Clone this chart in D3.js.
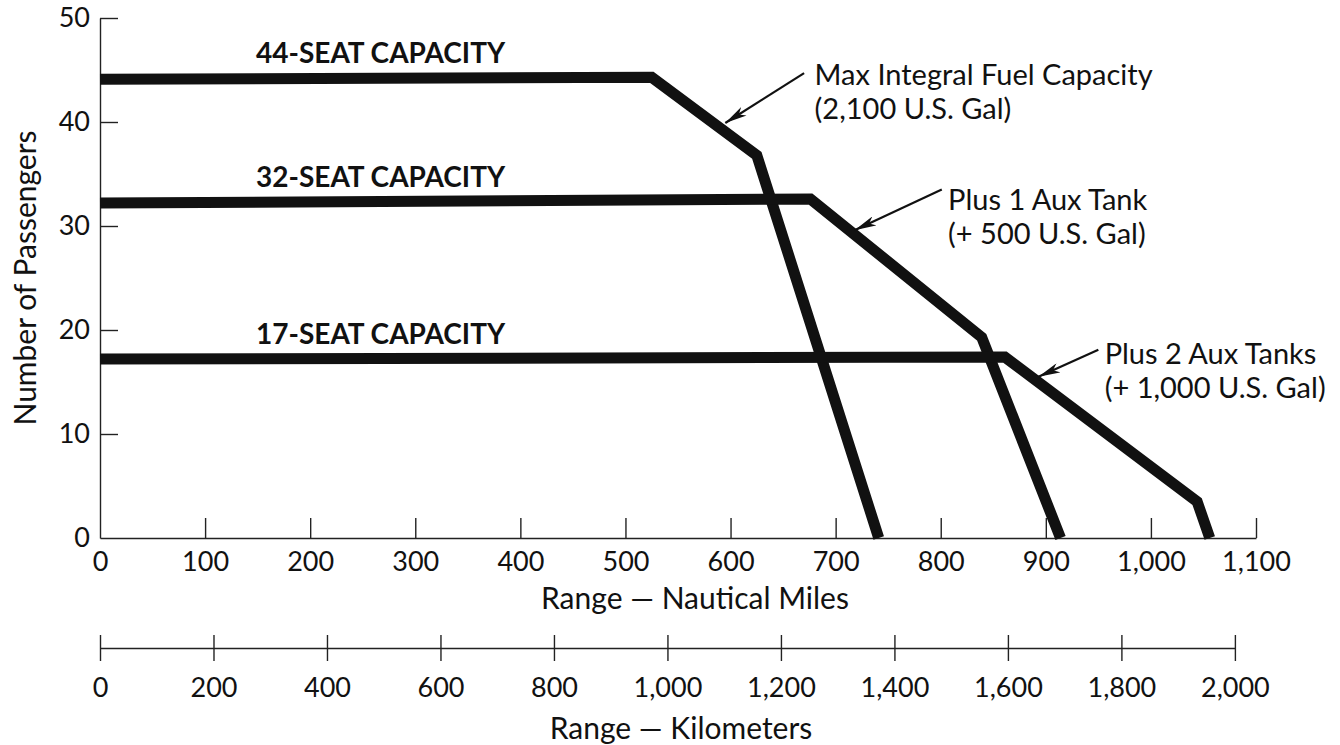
<!doctype html>
<html lang="en">
<head>
  <meta charset="UTF-8" />
  <script src="https://cdn.jsdelivr.net/npm/d3@7"></script>
  <style>
    body { margin: 0; background: white; }
    text { font-family: Lato, "Open Sans", sans-serif; fill: #111; }
    .axis path, .axis line { stroke: #222; stroke-width: 1.4; }
    .axis text { font-size: 27px; font-family: Lato, sans-serif; }
    .curve { fill: none; stroke: #111; stroke-width: 11; stroke-linejoin: miter; stroke-linecap: butt; }
    .cap { font-size: 28px; font-weight: bold; }
    .note { font-size: 29px; }
    .title { font-size: 30px; }
    .arrow { stroke: #111; stroke-width: 2.2; }
  </style>
  <title>Payload Range</title>
</head>
<body>
  <script>
    // tick values
    var nmTicks = [0, 100, 200, 300, 400, 500, 600, 700, 800, 900, 1000, 1100];
    var kmTicks = [0, 200, 400, 600, 800, 1000, 1200, 1400, 1600, 1800, 2000];
    var paxTicks = [0, 10, 20, 30, 40, 50];

    // max integral fuel, 44 seats
    var fuelRange = [0, 525, 625, 741];
    var fuelPax = [44.1, 44.3, 36.8, 0];
    // plus 1 aux tank, 32 seats
    var aux1Range = [0, 676, 839, 914];
    var aux1Pax = [32.2, 32.6, 19.3, 0];
    // plus 2 aux tanks, 17 seats
    var aux2Range = [0, 861, 1044, 1056];
    var aux2Pax = [17.2, 17.4, 3.5, 0];

    var capLabels = ["44-SEAT CAPACITY", "32-SEAT CAPACITY", "17-SEAT CAPACITY"];
    var capPax = [44.3, 32.4, 17.3];

    // callouts: text anchor, arrow tail and arrow tip (nm, passengers)
    var notes = [
      { l1: "Max Integral Fuel Capacity", l2: "(2,100 U.S. Gal)", nm: 680, pax: 43.6, tailNm: 670, tailPax: 44.7, tipNm: 595, tipPax: 39.9 },
      { l1: "Plus 1 Aux Tank", l2: "(+ 500 U.S. Gal)", nm: 807, pax: 31.5, tailNm: 801, tailPax: 33.5, tipNm: 718, tipPax: 29.6 },
      { l1: "Plus 2 Aux Tanks", l2: "(+ 1,000 U.S. Gal)", nm: 956, pax: 16.7, tailNm: 950, tailPax: 18.1, tipNm: 893, tipPax: 15.5 }
    ];

    var svg = d3.select("body").append("svg")
      .attr("width", 1340).attr("height", 745);

    var x = d3.scaleLinear().domain([0, 1100]).range([100, 1256]);
    var xKm = d3.scaleLinear().domain([0, 2000]).range([100, x(2000 / 1.852)]);
    var y = d3.scaleLinear().domain([0, 50]).range([538, 18]);

    svg.append("defs").append("marker")
      .attr("id", "head").attr("viewBox", "0 0 22 10")
      .attr("refX", 22).attr("refY", 5)
      .attr("markerWidth", 22).attr("markerHeight", 10)
      .attr("markerUnits", "userSpaceOnUse")
      .attr("orient", "auto")
      .append("path").attr("d", "M0,0 L22,5 L0,10 L6,5 Z").style("fill", "#111");

    // axes
    svg.append("g").attr("class", "axis")
      .attr("transform", "translate(0," + y(0) + ")")
      .call(d3.axisBottom(x).tickValues(nmTicks).tickSizeInner(-20).tickSizeOuter(0)
        .tickPadding(14).tickFormat(d3.format(",")))
      .call(function (g) { g.selectAll(".tick").filter(function (d) { return d == 0; }).select("line").remove(); });

    svg.append("g").attr("class", "axis")
      .attr("transform", "translate(" + x(0) + ",0)")
      .call(d3.axisLeft(y).tickValues(paxTicks).tickSizeInner(-18).tickSizeOuter(0).tickPadding(10))
      .call(function (g) { g.selectAll(".tick").filter(function (d) { return d == 0; }).select("line").remove(); });

    var kmAxis = svg.append("g").attr("class", "axis")
      .attr("transform", "translate(0,648)")
      .call(d3.axisBottom(xKm).tickValues(kmTicks).tickSizeInner(13).tickSizeOuter(0)
        .tickPadding(17).tickFormat(d3.format(",")));
    kmAxis.selectAll(".tick line").attr("y1", -13);

    svg.append("text").attr("class", "title")
      .attr("transform", "translate(36," + y(25) + ") rotate(-90)")
      .attr("text-anchor", "middle").text("Number of Passengers");
    svg.append("text").attr("class", "title")
      .attr("x", 695).attr("y", 609).attr("text-anchor", "middle")
      .text("Range \u2014 Nautical Miles");
    svg.append("text").attr("class", "title")
      .attr("x", 681).attr("y", 739).attr("text-anchor", "middle")
      .text("Range \u2014 Kilometers");

    // curves
    var line = d3.line()
      .x(function (d) { return x(d[0]); })
      .y(function (d) { return y(d[1]); });
    var series = [d3.zip(fuelRange, fuelPax), d3.zip(aux1Range, aux1Pax), d3.zip(aux2Range, aux2Pax)];
    svg.append("g").selectAll("path").data(series).enter().append("path")
      .attr("class", "curve").attr("d", line);

    svg.append("g").selectAll("text").data(capLabels).enter().append("text")
      .attr("class", "cap")
      .attr("x", 256)
      .attr("y", function (d, i) { return y(capPax[i]) - 14; })
      .text(function (d) { return d; });

    // callouts
    var n = svg.append("g").selectAll("g").data(notes).enter().append("g");
    n.append("line").attr("class", "arrow")
      .attr("x1", function (d) { return x(d.tailNm); })
      .attr("y1", function (d) { return y(d.tailPax); })
      .attr("x2", function (d) { return x(d.tipNm); })
      .attr("y2", function (d) { return y(d.tipPax); })
      .attr("marker-end", "url(#head)");
    n.append("text").attr("class", "note")
      .attr("x", function (d) { return x(d.nm); })
      .attr("y", function (d) { return y(d.pax); })
      .text(function (d) { return d.l1; });
    n.append("text").attr("class", "note")
      .attr("x", function (d) { return x(d.nm); })
      .attr("y", function (d) { return y(d.pax) + 34; })
      .text(function (d) { return d.l2; });
  </script>
</body>
</html>
